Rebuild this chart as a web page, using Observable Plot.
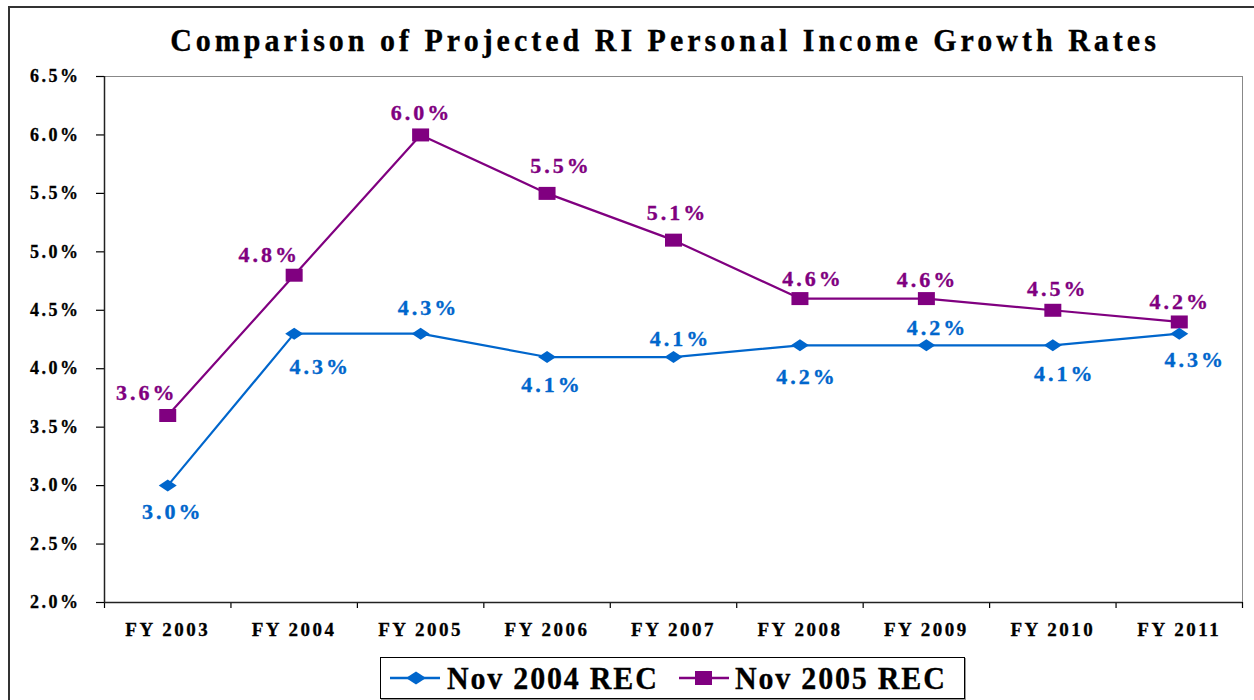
<!DOCTYPE html>
<html>
<head>
<meta charset="utf-8">
<script src="https://cdn.jsdelivr.net/npm/d3@7"></script>
<script src="https://cdn.jsdelivr.net/npm/@observablehq/plot@0.6"></script>
<style>
  html, body { margin: 0; padding: 0; background: #fff; }
  #wrap { position: relative; width: 1254px; height: 700px; overflow: hidden; font-family: "Liberation Serif", "Times New Roman", serif; font-weight: bold; }
  #outer { position: absolute; left: 8px; top: 6px; width: 1300px; height: 760px; border: 2px solid #333; box-sizing: border-box; }
  #title { position: absolute; left: 665px; top: 21px; transform: translateX(-50%) scaleY(1.05); white-space: nowrap; font-size: 30px; letter-spacing: 4px; line-height: 38px; color: #000; -webkit-text-stroke: 0.3px #000; }
  #chart { position: absolute; left: 0; top: 60px; }
  #legend { position: absolute; left: 380px; top: 657px; width: 585px; height: 42px; border: 1.5px solid #000; box-sizing: border-box; box-shadow: 1px 1px 0 #999; background: #fff; }
  .lg { position: absolute; top: 0; height: 39px; line-height: 39px; font-size: 30px; letter-spacing: 1.8px; white-space: nowrap; color: #000; transform: scaleY(1.05); -webkit-text-stroke: 0.3px #000; }
  .sw { position: absolute; top: 9px; }
  g[aria-label="y-axis tick label"] text { letter-spacing: 2.5px; stroke: #000; stroke-width: 0.3px; }
  g[aria-label="x-axis tick label"] text { letter-spacing: 2.5px; stroke: #000; stroke-width: 0.3px; }
  g[aria-label="text"] text { letter-spacing: 3px; }
</style>
</head>
<body>
<div id="wrap">
  <div id="outer"></div>
  <div id="title">Comparison of Projected RI Personal Income Growth Rates</div>
  <div id="chart"></div>
  <div id="legend"></div>
</div>
<script>
// ---- data ----
const categories = ["FY 2003", "FY 2004", "FY 2005", "FY 2006", "FY 2007", "FY 2008", "FY 2009", "FY 2010", "FY 2011"];
const seriesNames = ["Nov 2004 REC", "Nov 2005 REC"];
const nov2004 = [3.0, 4.3, 4.3, 4.1, 4.1, 4.2, 4.2, 4.2, 4.3];
const nov2005 = [3.6, 4.8, 6.0, 5.5, 5.1, 4.6, 4.6, 4.5, 4.4];
const nov2004Labels = ["3.0%", "4.3%", "4.3%", "4.1%", "4.1%", "4.2%", "4.2%", "4.1%", "4.3%"];
const nov2005Labels = ["3.6%", "4.8%", "6.0%", "5.5%", "5.1%", "4.6%", "4.6%", "4.5%", "4.2%"];
const yTicks = [2.0, 2.5, 3.0, 3.5, 4.0, 4.5, 5.0, 5.5, 6.0, 6.5];

// ---- label placement (layout only) ----
const nov2004LabelDx = [5, 26, 8, 5, 7, 7, 11, 12, 16];
const nov2004LabelDy = [26, 33, -26, 28, -18, 32, -17, 29, 26];
const nov2005LabelDx = [-21, -25, 1, 14, 4, 13, 1, 5, 1];
const nov2005LabelDy = [-23, -20, -22, -27, -27, -20, -19, -21, -20];

// ---- styles ----
const blue = "#0066CC";
const purple = "#800080";
const font = "'Liberation Serif', 'Times New Roman', serif";

const idx = categories.map((c, i) => i);
const rows2004 = idx.map(i => ({i, v: nov2004[i], label: nov2004Labels[i], dx: nov2004LabelDx[i], dy: nov2004LabelDy[i]}));
const rows2005 = idx.map(i => ({i, v: nov2005[i], label: nov2005Labels[i], dx: nov2005LabelDx[i], dy: nov2005LabelDy[i]}));
const boundaries = [-0.5, ...idx.map(i => i + 0.5)];

const wideDiamond = { draw(ctx) { ctx.moveTo(0, -6); ctx.lineTo(9, 0); ctx.lineTo(0, 6); ctx.lineTo(-9, 0); ctx.closePath(); } };
const rectSym = { draw(ctx) { ctx.rect(-8.5, -6.5, 17, 13); } };

const labelMarks = (rows, color) => rows.map(r => Plot.text([r], {
  x: d => d.i, y: d => d.v, text: d => d.label, dx: r.dx, dy: r.dy,
  fill: color, stroke: color, strokeWidth: 0.35, fontSize: 22, fontWeight: "bold", fontFamily: font
}));

const chart = Plot.plot({
  width: 1254,
  height: 585,
  marginLeft: 104,
  marginRight: 12,
  marginTop: 16,
  marginBottom: 43,
  style: { background: "transparent", fontFamily: font, fontWeight: "bold", color: "#000", overflow: "visible" },
  x: { type: "linear", domain: [-0.5, categories.length - 0.5] },
  y: { domain: [2.0, 6.5] },
  marks: [
    Plot.frame({ stroke: "#888", strokeWidth: 1 }),
    Plot.axisY({ ticks: yTicks, tickSize: 8, tickPadding: 16, tickFormat: d => d.toFixed(1) + "%", fontSize: 18, label: null, strokeWidth: 1.2 }),
    Plot.axisX({ ticks: boundaries, tickSize: 6, tickFormat: () => "", label: null, strokeWidth: 1.2 }),
    Plot.axisX({ ticks: idx, tickSize: 0, tickPadding: 20, tickFormat: i => categories[i], fontSize: 19, label: null }),
    Plot.ruleX([-0.5], { stroke: "#222", strokeWidth: 1.5 }),
    Plot.ruleY([2.0], { stroke: "#222", strokeWidth: 1.5 }),
    Plot.line(rows2005, { x: "i", y: "v", stroke: purple, strokeWidth: 2.2 }),
    Plot.line(rows2004, { x: "i", y: "v", stroke: blue, strokeWidth: 2.2 }),
    Plot.dot(rows2005, { x: "i", y: "v", symbol: rectSym, fill: purple, stroke: "none" }),
    Plot.dot(rows2004, { x: "i", y: "v", symbol: wideDiamond, fill: blue, stroke: "none" }),
    ...labelMarks(rows2005, purple),
    ...labelMarks(rows2004, blue)
  ]
});
document.getElementById("chart").appendChild(chart);

// ---- legend ----
const legend = document.getElementById("legend");
legend.innerHTML = `
  <svg class="sw" style="left:9px" width="52" height="22"><line x1="0" y1="11" x2="50" y2="11" stroke="${blue}" stroke-width="2.5"/><polygon points="16,11 26,4.5 36,11 26,17.5" fill="${blue}"/></svg>
  <div class="lg" style="left:66px">${seriesNames[0]}</div>
  <svg class="sw" style="left:298px" width="52" height="22"><line x1="0" y1="11" x2="50" y2="11" stroke="${purple}" stroke-width="2.5"/><rect x="16" y="4" width="17" height="14" fill="${purple}"/></svg>
  <div class="lg" style="left:354px">${seriesNames[1]}</div>`;
</script>
</body>
</html>
